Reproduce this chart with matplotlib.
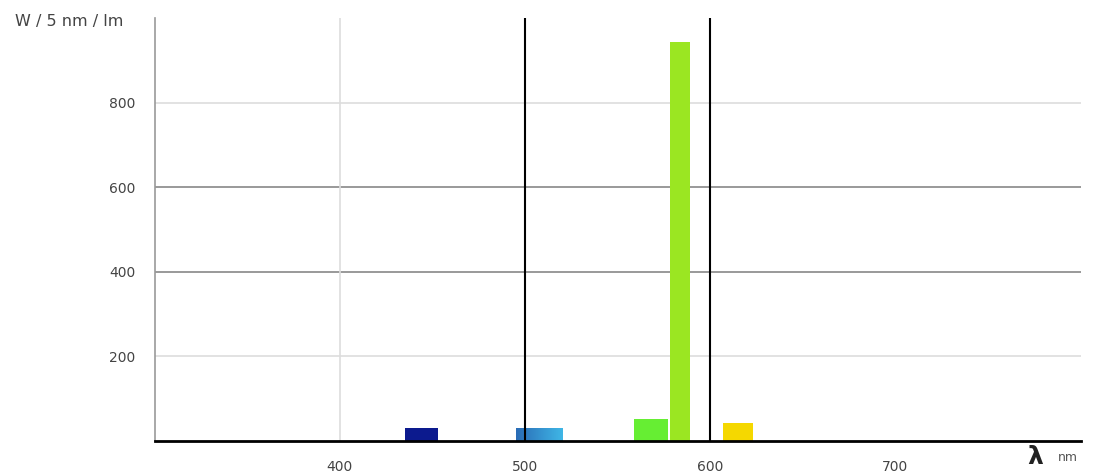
import numpy as np
import matplotlib.pyplot as plt
from matplotlib.colors import LinearSegmentedColormap

# spectrum bars (5 nm bins), W / 5 nm / lm
bar_left = [435, 495, 559, 578, 607]
bar_right = [453, 520, 577, 589, 623]
bar_values = [30, 30, 52, 943, 42]
bar_colors = ["#0c1a8e", "#2f8ed6", "#66ee33", "#9be622", "#f5d800"]
# the 495-520 bar is shaded from dark to light blue
gradient_colors = ["#2a6cb6", "#3fb6e6"]

y_ticks = [200, 400, 600, 800]
x_ticks = [400, 500, 600, 700]

fig = plt.figure(figsize=(11.05, 4.76), dpi=100)
ax = fig.add_axes([0.140, 0.074, 0.838, 0.888])

ax.set_xlim(300, 800)
ax.set_ylim(0, 1000)

# gridlines: light and darker rows, black verticals at 500/600
for v, c in zip(y_ticks, ["#dddddd", "#888888", "#888888", "#dddddd"]):
    ax.axhline(v, color=c, lw=1.2, zorder=1)
ax.axvline(400, color="#dddddd", lw=1.2, zorder=1)
ax.axvline(500, color="black", lw=1.5, zorder=4)
ax.axvline(600, color="black", lw=1.5, zorder=4)

widths = [r - l for l, r in zip(bar_left, bar_right)]
bars = ax.bar(bar_left, bar_values, width=widths, align="edge", color=bar_colors, zorder=2)

# gradient fill for the blue-cyan bar
b = bars[1]
cmap = LinearSegmentedColormap.from_list("bc", gradient_colors)
img = ax.imshow(np.linspace(0, 1, 64).reshape(1, -1), cmap=cmap, aspect="auto",
                extent=[bar_left[1], bar_right[1], 0, bar_values[1]], zorder=3)
img.set_clip_path(b)
ax.set_xlim(300, 800)
ax.set_ylim(0, 1000)

for s in ["top", "right"]:
    ax.spines[s].set_visible(False)
ax.spines["left"].set_color("#999999")
ax.spines["left"].set_linewidth(1.2)
ax.spines["bottom"].set_color("black")
ax.spines["bottom"].set_linewidth(2)
ax.spines["bottom"].set_zorder(5)

ax.set_yticks(y_ticks)
ax.set_xticks(x_ticks)
ax.tick_params(length=0, labelsize=10, colors="#444444", pad=14)

fig.text(0.014, 0.955, "W / 5 nm / lm", fontsize=11.5, color="#444444", ha="left", va="center")
fig.text(0.937, 0.015, "λ", fontsize=18, fontweight="bold", color="#222222", ha="center", va="bottom")
fig.text(0.966, 0.025, "nm", fontsize=9, color="#555555", ha="center", va="bottom")

fig.savefig("out.png", dpi=100)
